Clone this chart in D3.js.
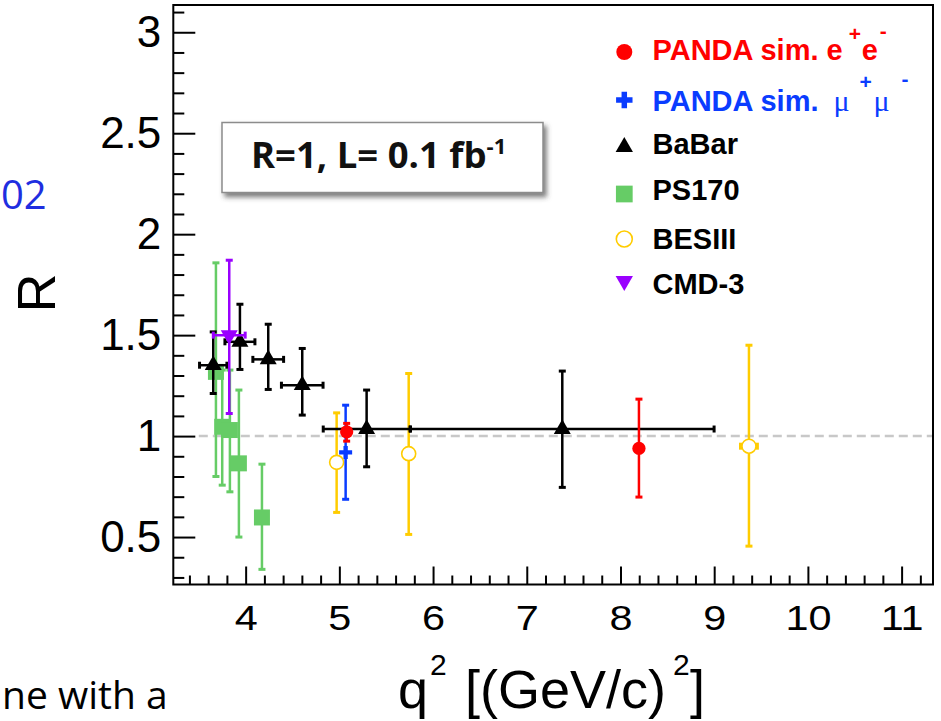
<!DOCTYPE html>
<html>
<head>
<meta charset="utf-8">
<script src="https://cdn.jsdelivr.net/npm/d3@7"></script>
<style>
  body { margin: 0; background: #fff; }
  svg { display: block; }
</style>
</head>
<body>
<script>
const w = 941;
const h = 721;

// BaBar
const babarQ2 = [3.654, 3.939, 4.241, 4.604, 5.291, 7.379];
const babarQ2Err = [0.146, 0.16, 0.164, 0.222, 0.463, 1.62];
const babarR = [1.351, 1.467, 1.38, 1.252, 1.035, 1.035];
const babarRHigh = [1.516, 1.653, 1.554, 1.434, 1.228, 1.322];
const babarRLow = [1.211, 1.33, 1.231, 1.104, 0.848, 0.746];

// PS170
const ps170Q2 = [3.683, 3.75, 3.832, 3.928, 4.174];
const ps170R = [1.318, 1.046, 1.03, 0.865, 0.597];
const ps170RHigh = [1.858, 1.327, 1.327, 1.228, 0.861];
const ps170RLow = [0.8, 0.757, 0.724, 0.5, 0.34];

// CMD-3
const cmdQ2 = [3.825];
const cmdQ2Err = [0.17];
const cmdR = [1.5];
const cmdRHigh = [1.871];
const cmdRLow = [1.112];

// BESIII
const besQ2 = [4.971, 5.74, 9.371];
const besQ2Err = [0, 0, 0.09];
const besR = [0.87, 0.913, 0.95];
const besRHigh = [1.115, 1.31, 1.45];
const besRLow = [0.622, 0.513, 0.455];

// PANDA simulations
const pandaEeQ2 = [5.078, 8.197];
const pandaEeR = [1.021, 0.939];
const pandaEeRHigh = [1.063, 1.183];
const pandaEeRLow = [0.975, 0.698];

const pandaMuQ2 = [5.067];
const pandaMuR = [0.919];
const pandaMuRHigh = [1.153];
const pandaMuRLow = [0.687];

const xTicks = [4, 5, 6, 7, 8, 9, 10, 11];
const yTicks = [0.5, 1, 1.5, 2, 2.5, 3];

const toRows = (q2, r, hi, lo, q2Err) =>
  q2.map((q, i) => ({
    q2: q,
    r: r[i],
    hi: hi[i],
    lo: lo[i],
    err: q2Err ? q2Err[i] : 0,
  }));

const svg = d3
  .select('body')
  .append('svg')
  .attr('width', w)
  .attr('height', h)
  .style('font-family', "'Liberation Sans', Arial, sans-serif");

svg
  .append('defs')
  .append('filter')
  .attr('id', 'shadow')
  .attr('x', '-10%')
  .attr('y', '-20%')
  .attr('width', '130%')
  .attr('height', '160%')
  .append('feDropShadow')
  .attr('dx', 3)
  .attr('dy', 4)
  .attr('stdDeviation', 2.5)
  .attr('flood-color', '#444')
  .attr('flood-opacity', 0.7);

svg.append('rect').attr('width', w).attr('height', h).attr('fill', '#fff');

// slide text peeking from behind the figure
svg
  .append('text')
  .attr('x', 1)
  .attr('y', 209)
  .style('font-family', "'Open Sans', sans-serif")
  .style('font-size', '40px')
  .attr('fill', '#1f2ee0')
  .text('02');

svg
  .append('text')
  .attr('x', 2)
  .attr('y', 709)
  .style('font-family', "'Open Sans', sans-serif")
  .style('font-size', '39px')
  .attr('fill', '#000')
  .text('ne with a');

const plotLeft = 173.3;
const plotRight = 933;
const plotTop = 5;
const plotBottom = 584.5;

const xScale = d3.scaleLinear().domain([3.228, 11.335]).range([plotLeft, plotRight]);
const yScale = d3.scaleLinear().domain([0.265, 3.135]).range([plotBottom, plotTop]);

// reference line R = 1
svg
  .append('line')
  .attr('x1', xScale(3.5))
  .attr('x2', plotRight)
  .attr('y1', yScale(1))
  .attr('y2', yScale(1))
  .attr('stroke', '#c8c8c8')
  .attr('stroke-width', 2.5)
  .attr('stroke-dasharray', '9,5');

// axes
const xMinor = d3.range(3.4, 11.33, 0.2).filter((v) => Math.abs(v - Math.round(v)) > 0.01);
const yMinor = d3.range(0.3, 3.13, 0.1).filter((v) => Math.abs(v * 2 - Math.round(v * 2)) > 0.01);

svg
  .append('g')
  .attr('transform', `translate(0,${plotBottom})`)
  .call(d3.axisBottom(xScale).tickValues(xMinor).tickSize(-9).tickFormat(''))
  .call((g) => g.select('.domain').remove());

const xAxis = svg
  .append('g')
  .attr('id', 'x-axis')
  .attr('transform', `translate(0,${plotBottom})`)
  .call(d3.axisBottom(xScale).tickValues(xTicks).tickSize(-18).tickFormat(d3.format('d')))
  .call((g) => g.select('.domain').remove());

xAxis
  .selectAll('text')
  .attr('y', 0)
  .attr('dy', 0)
  .attr('transform', 'translate(0,45.5) scale(1.15,1)')
  .style('font-size', '36px')
  .attr('fill', '#000');

svg
  .append('g')
  .attr('transform', `translate(${plotLeft},0)`)
  .call(d3.axisLeft(yScale).tickValues(yMinor).tickSize(-11).tickFormat(''))
  .call((g) => g.select('.domain').remove());

const yAxis = svg
  .append('g')
  .attr('id', 'y-axis')
  .attr('transform', `translate(${plotLeft},0)`)
  .call(d3.axisLeft(yScale).tickValues(yTicks).tickSize(-22).tickPadding(12).tickFormat(d3.format('')))
  .call((g) => g.select('.domain').remove());

yAxis.selectAll('text').style('font-size', '44px').attr('fill', '#000');

svg.selectAll('.tick line').attr('stroke', '#000').attr('stroke-width', 2);

svg
  .append('rect')
  .attr('x', plotLeft)
  .attr('y', plotTop)
  .attr('width', plotRight - plotLeft)
  .attr('height', plotBottom - plotTop)
  .attr('fill', 'none')
  .attr('stroke', '#000')
  .attr('stroke-width', 2);

// error bars
const drawErrors = (rows, color) => {
  const g = svg.append('g').attr('stroke', color);
  g.selectAll(null)
    .data(rows)
    .enter()
    .append('line')
    .attr('x1', (d) => xScale(d.q2))
    .attr('x2', (d) => xScale(d.q2))
    .attr('y1', (d) => yScale(d.hi))
    .attr('y2', (d) => yScale(d.lo))
    .attr('stroke-width', 2.5);
  g.selectAll(null)
    .data(rows.flatMap((d) => [{ q2: d.q2, v: d.hi }, { q2: d.q2, v: d.lo }]))
    .enter()
    .append('line')
    .attr('x1', (d) => xScale(d.q2) - 3.5)
    .attr('x2', (d) => xScale(d.q2) + 3.5)
    .attr('y1', (d) => yScale(d.v))
    .attr('y2', (d) => yScale(d.v))
    .attr('stroke-width', 3);
  const wide = rows.filter((d) => d.err > 0);
  g.selectAll(null)
    .data(wide)
    .enter()
    .append('line')
    .attr('x1', (d) => xScale(d.q2 - d.err))
    .attr('x2', (d) => xScale(d.q2 + d.err))
    .attr('y1', (d) => yScale(d.r))
    .attr('y2', (d) => yScale(d.r))
    .attr('stroke-width', 2.5);
  g.selectAll(null)
    .data(wide.flatMap((d) => [{ q: d.q2 - d.err, r: d.r }, { q: d.q2 + d.err, r: d.r }]))
    .enter()
    .append('line')
    .attr('x1', (d) => xScale(d.q))
    .attr('x2', (d) => xScale(d.q))
    .attr('y1', (d) => yScale(d.r) - 3.5)
    .attr('y2', (d) => yScale(d.r) + 3.5)
    .attr('stroke-width', 3);
};

const drawMarkers = (rows, type, size, fill, stroke, flip) => {
  svg
    .append('g')
    .selectAll(null)
    .data(rows)
    .enter()
    .append('path')
    .attr('transform', (d) => `translate(${xScale(d.q2)},${yScale(d.r)})${flip ? ' rotate(180)' : ''}`)
    .attr('d', d3.symbol(type, size))
    .attr('fill', fill)
    .attr('stroke', stroke || 'none')
    .attr('stroke-width', 1.6);
};

const yellow = '#ffcc00';
const green = '#66cc66';
const purple = '#9a00ff';
const red = '#ff0000';
const blue = '#0a3cff';

const besRows = toRows(besQ2, besR, besRHigh, besRLow, besQ2Err);
drawErrors(besRows, yellow);
drawMarkers(besRows, d3.symbolCircle, Math.PI * 49, '#fff', yellow);

const psRows = toRows(ps170Q2, ps170R, ps170RHigh, ps170RLow);
drawErrors(psRows, green);
drawMarkers(psRows, d3.symbolSquare, 256, green);

const babarRows = toRows(babarQ2, babarR, babarRHigh, babarRLow, babarQ2Err);
drawErrors(babarRows, '#000');
drawMarkers(babarRows, d3.symbolTriangle, 125, '#000');

const cmdRows = toRows(cmdQ2, cmdR, cmdRHigh, cmdRLow, cmdQ2Err);
drawErrors(cmdRows, purple);
drawMarkers(cmdRows, d3.symbolTriangle, 125, purple, null, true);

const muRows = toRows(pandaMuQ2, pandaMuR, pandaMuRHigh, pandaMuRLow);
drawErrors(muRows, blue);
drawMarkers(muRows, d3.symbolCross, 94, blue);

const eeRows = toRows(pandaEeQ2, pandaEeR, pandaEeRHigh, pandaEeRLow);
drawErrors(eeRows, red);
drawMarkers(eeRows, d3.symbolCircle, Math.PI * 44, red);

// luminosity box
svg
  .append('rect')
  .attr('x', 222)
  .attr('y', 122.5)
  .attr('width', 321)
  .attr('height', 70)
  .attr('fill', '#fff')
  .attr('stroke', '#8c8c8c')
  .attr('stroke-width', 1.5)
  .attr('filter', 'url(#shadow)');

const boxText = svg
  .append('text')
  .attr('x', 251)
  .attr('y', 168)
  .style('font-family', "'Open Sans', sans-serif")
  .style('font-weight', 'bold')
  .style('font-size', '36.5px')
  .attr('fill', '#111');
boxText.append('tspan').text('R=1, L= 0.1 fb');
boxText.append('tspan').attr('dy', -14).style('font-size', '22px').text('-1');

// legend
const legendY = [52, 100, 147, 194, 239, 281];
const legendBase = [60, 111, 154, 200, 249, 294];
const legendNames = ['PANDA sim. e', 'PANDA sim.', 'BaBar', 'PS170', 'BESIII', 'CMD-3'];
const legendColors = [red, blue, '#000', '#000', '#000', '#000'];
const legendMarks = [
  { type: d3.symbolCircle, size: Math.PI * 64, fill: red },
  { type: d3.symbolCross, size: 150, fill: blue },
  { type: d3.symbolTriangle, size: 130, fill: '#000' },
  { type: d3.symbolSquare, size: 280, fill: green },
  { type: d3.symbolCircle, size: Math.PI * 64, fill: '#fff', stroke: yellow },
  { type: d3.symbolTriangle, size: 130, fill: purple, flip: true },
];

const legend = svg.append('g').attr('id', 'legend');
const legendEnds = legendMarks.map((m, i) => {
  legend
    .append('path')
    .attr('transform', `translate(624.3,${legendY[i]})${m.flip ? ' rotate(180)' : ''}`)
    .attr('d', d3.symbol(m.type, m.size))
    .attr('fill', m.fill)
    .attr('stroke', m.stroke || 'none')
    .attr('stroke-width', 1.6);
  const t = legend
    .append('text')
    .attr('x', 652.5)
    .attr('y', legendBase[i])
    .style('font-weight', 'bold')
    .style('font-size', '29px')
    .attr('fill', legendColors[i])
    .text(legendNames[i]);
  return 652.5 + t.node().getComputedTextLength();
});

const sup = (x, y, txt, color, size, weight, family) =>
  legend
    .append('text')
    .attr('x', x)
    .attr('y', y)
    .style('font-size', size + 'px')
    .style('font-weight', weight)
    .style('font-family', family || null)
    .attr('fill', color)
    .text(txt);

const eeEnd = legendEnds[0];
sup(eeEnd + 6, 41, '+', red, 21, 'bold');
sup(eeEnd + 19, 60, 'e', red, 29, 'bold');
sup(eeEnd + 37, 38, '-', red, 21, 'bold');
const muEnd = legendEnds[1];
sup(muEnd + 15, 111, 'μ', blue, 30, 'normal', "'Liberation Serif', serif");
sup(muEnd + 41, 89, '+', blue, 21, 'bold');
sup(muEnd + 55, 111, 'μ', blue, 30, 'normal', "'Liberation Serif', serif");
sup(muEnd + 83, 86, '-', blue, 21, 'bold');

// axis titles
const xTitle = svg.append('text').attr('y', 708).style('font-size', '54px').attr('fill', '#000');
xTitle.append('tspan').attr('x', 398).text('q');
xTitle.append('tspan').attr('x', 430).attr('y', 675).style('font-size', '30px').text('2');
xTitle.append('tspan').attr('x', 465).attr('y', 708).text('[(GeV/c)');
xTitle.append('tspan').attr('x', 673).attr('y', 675).style('font-size', '30px').text('2');
xTitle.append('tspan').attr('x', 690).attr('y', 708).text(']');

svg
  .append('text')
  .attr('transform', 'translate(55,293) rotate(-90)')
  .attr('text-anchor', 'middle')
  .style('font-size', '54px')
  .attr('fill', '#000')
  .text('R');
</script>
</body>
</html>
